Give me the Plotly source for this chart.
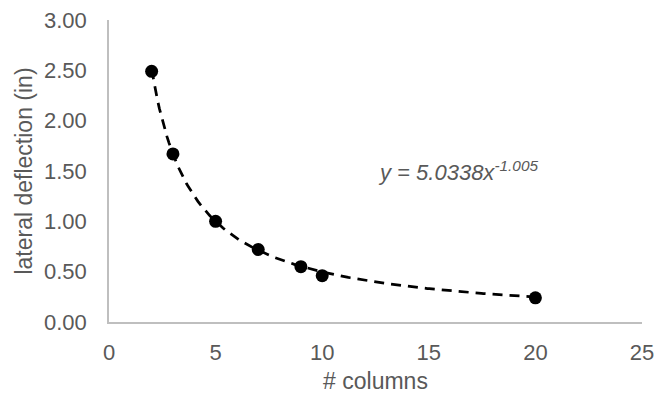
import numpy as np
import plotly.graph_objects as go

columns = [2, 3, 5, 7, 9, 10, 20]
deflection = [2.49, 1.67, 1.00, 0.72, 0.55, 0.46, 0.24]

# Power trendline coefficients as displayed on the chart
trend_a = 5.0338
trend_b = -1.005

x_tick_vals = [0, 5, 10, 15, 20, 25]
y_tick_vals = [0, 0.5, 1.0, 1.5, 2.0, 2.5, 3.0]

tx = np.linspace(min(columns), max(columns), 200)
ty = trend_a * tx ** trend_b

fig = go.Figure()
fig.add_trace(go.Scatter(x=tx, y=ty, mode="lines",
                         line=dict(color="black", width=2.75, dash="10px,7px"),
                         hoverinfo="skip", showlegend=False))
fig.add_trace(go.Scatter(x=columns, y=deflection, mode="markers",
                         marker=dict(color="black", size=13),
                         showlegend=False))

FAM = "Liberation Sans, Arial, sans-serif"
tick_font = dict(family=FAM, color="#595959", size=22)
title_font = dict(family=FAM, color="#595959", size=23)

L, R, T, B = 109, 18, 20, 75
W, H = 660, 397

fig.update_layout(
    width=W, height=H,
    margin=dict(l=L, r=R, t=T, b=B, autoexpand=False),
    paper_bgcolor="white", plot_bgcolor="white",
    font=tick_font,
    xaxis=dict(range=[0, 25], tickvals=x_tick_vals, showgrid=False, zeroline=False,
               showline=True, linecolor="#bfbfbf", linewidth=1.5, ticks="",
               ticklabelstandoff=10, automargin=False,
               title=dict(text="# columns", font=title_font, standoff=9),
               tickfont=tick_font),
    yaxis=dict(range=[0, 3], tickvals=y_tick_vals, tickformat=".2f", showgrid=False,
               zeroline=False, showline=True, linecolor="#bfbfbf", linewidth=1.5, ticks="",
               ticklabelstandoff=16, automargin=False,
               title=dict(text="lateral deflection (in)", font=title_font, standoff=5),
               tickfont=tick_font),
)
pw = W - L - R
ph = H - T - B
fig.add_annotation(x=(458 - L) / pw, y=(H - B - 171) / ph, xref="paper", yref="paper",
                   showarrow=False,
                   text="<i>y = 5.0338x<sup>-1.005</sup></i>",
                   font=dict(family=FAM, color="#595959", size=22))

fig.write_html("out.html", config={"displayModeBar": False},
               post_script="document.body.style.margin='0';document.body.style.padding='0';")
